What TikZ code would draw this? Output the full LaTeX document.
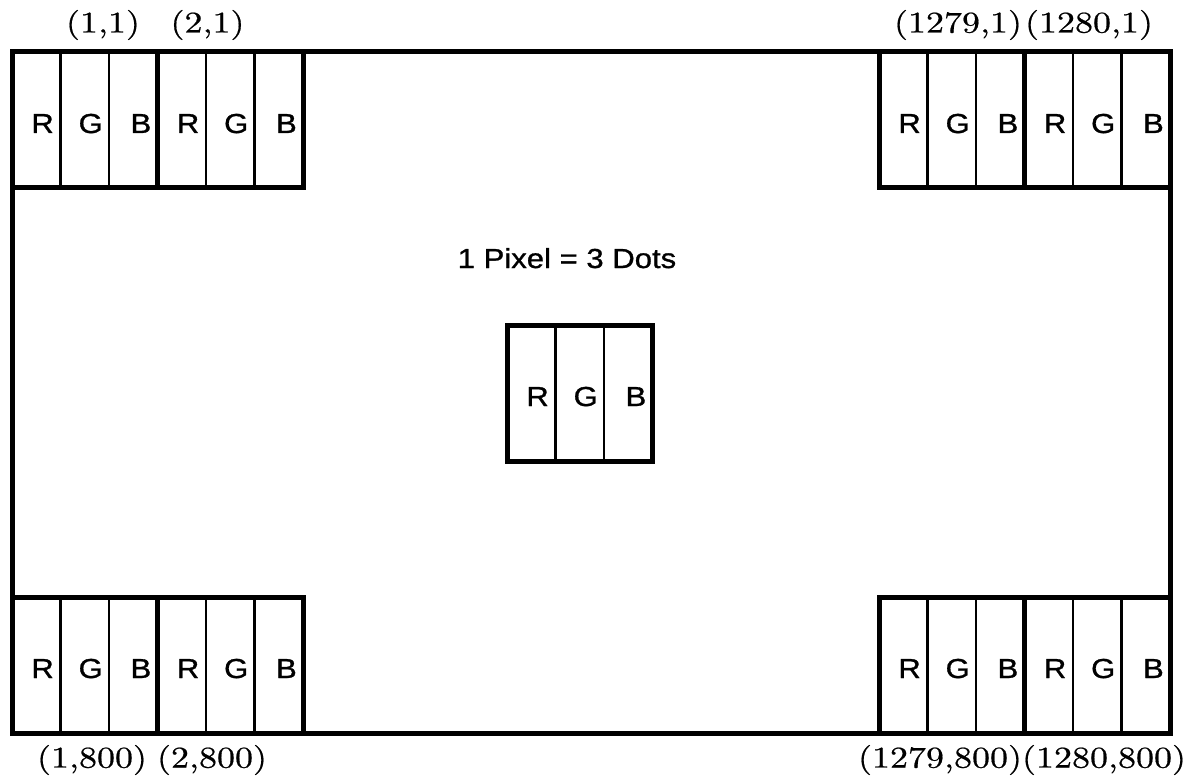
\documentclass[tikz,border=0pt]{standalone}
\usepackage{fontspec}
\newfontfamily\widesans[FakeStretch=1.13,FakeBold=1.0]{Liberation Sans}
\newfontfamily\coordfont[FakeStretch=1.2,FakeBold=0.6]{lmroman10-regular.otf}
\begin{document}
\begin{tikzpicture}[x=1pt,y=-1pt,
  dotline/.style={line width=2.2pt},
  pixline/.style={line width=5pt},
  dotlabel/.style={anchor=base east,inner sep=0pt,font=\widesans\fontsize{27.5}{32}\selectfont},
  coordlabel/.style={anchor=center,inner sep=0pt,font=\coordfont\fontsize{30}{34}\selectfont},
  pics/pixel/.style={code={
    \draw[dotline] (48.5,0) -- (48.5,136) (97,0) -- (97,136);
    \node[dotlabel] (-r) at (42,81) {R};
    \node[dotlabel] (-g) at (91,81) {G};
    \node[dotlabel] (-b) at (139.5,81) {B};
    \draw[pixline] (0,0) rectangle (145.5,136);
  }}]
\useasboundingbox (0,0) rectangle (1196,778);
\draw[pixline] (12,52) rectangle (1170,733);
\pic (tl1) at (12,52) {pixel};
\pic (tl2) at (157.5,52) {pixel};
\pic (tr1) at (879,52) {pixel};
\pic (tr2) at (1024.5,52) {pixel};
\pic (bl1) at (12,597) {pixel};
\pic (bl2) at (157.5,597) {pixel};
\pic (br1) at (879,597) {pixel};
\pic (br2) at (1024.5,597) {pixel};
\pic (ctr) at (507,325) {pixel};
\node[anchor=base,inner sep=0pt,font=\widesans\fontsize{27.5}{32}\selectfont] (title) at (567,268) {1 Pixel = 3 Dots};
\node[coordlabel] (c11) at (103,25) {(1,1)};
\node[coordlabel] (c21) at (207.5,25) {(2,1)};
\node[coordlabel] (c12791) at (958,25) {(1279,1)};
\node[coordlabel] (c12801) at (1089,25) {(1280,1)};
\node[coordlabel] (c1800) at (92,760) {(1,800)};
\node[coordlabel] (c2800) at (212,760) {(2,800)};
\node[coordlabel] (c1279800) at (940,760) {(1279,800)};
\node[coordlabel] (c1280800) at (1104,760) {(1280,800)};
\end{tikzpicture}
\end{document}
